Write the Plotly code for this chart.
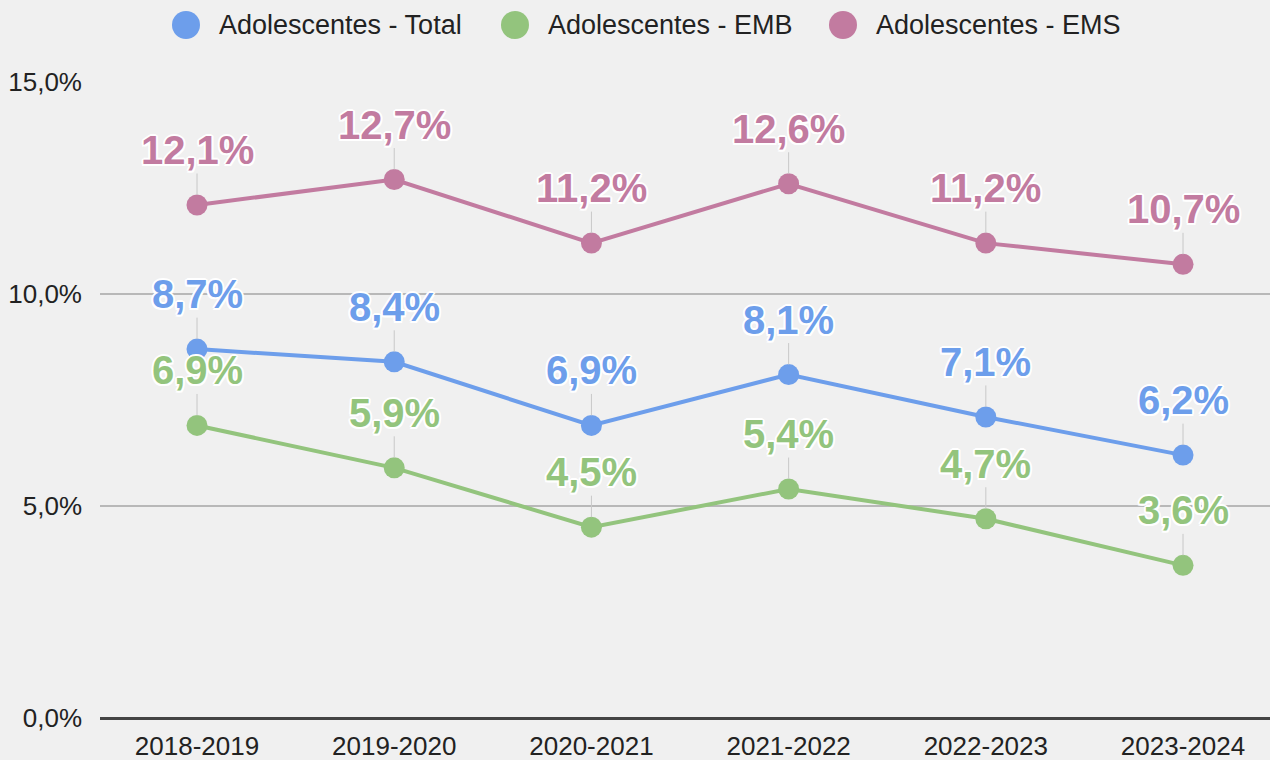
import plotly.graph_objects as go

categories = ["2018-2019", "2019-2020", "2020-2021", "2021-2022", "2022-2023", "2023-2024"]
total = [8.7, 8.4, 6.9, 8.1, 7.1, 6.2]
emb = [6.9, 5.9, 4.5, 5.4, 4.7, 3.6]
ems = [12.1, 12.7, 11.2, 12.6, 11.2, 10.7]
series_names = ["Adolescentes - Total", "Adolescentes - EMB", "Adolescentes - EMS"]
colors = ["#6d9eeb", "#93c47d", "#c27ba0"]
y_ticks = [0, 5, 10, 15]

def fmt(v):
    return f"{v:.1f}%".replace(".", ",")

W, H = 1270, 760
ML, MR, MT, MB = 100, 0, 82, 42
PW, PH = W - ML - MR, H - MT - MB

def px_x(p):
    return (p - ML) / PW

def px_y(p):
    return (H - MB - p) / PH

fig = go.Figure()
shadow = ("white 2px 0px 0px, white -2px 0px 0px, white 0px 2px 0px, white 0px -2px 0px, "
          "white 1.5px 1.5px 0px, white -1.5px -1.5px 0px, white 1.5px -1.5px 0px, white -1.5px 1.5px 0px")

annotations = []
shapes = []
for name, vals, col in zip(series_names, [total, emb, ems], colors):
    fig.add_trace(go.Scatter(
        x=categories, y=vals, name=name, mode="lines+markers",
        line=dict(color=col, width=4),
        marker=dict(color=col, size=21),
        hoverinfo="skip", showlegend=False,
    ))
    for c, v in zip(categories, vals):
        annotations.append(dict(
            x=c, y=v, xref="x", yref="y", text=fmt(v),
            showarrow=True, arrowhead=0, arrowwidth=1, arrowcolor="#c8c8c8",
            ax=0, ay=-55, standoff=10,
            font=dict(family="Liberation Sans, Arial, sans-serif", size=40, color=col,
                      weight="bold", shadow=shadow),
        ))

# Legend (circle swatch + label), laid out along the top
legend_circle_x = [186, 515, 843]
legend_y = 25
for name, col, cx in zip(series_names, colors, legend_circle_x):
    shapes.append(dict(
        type="circle", xref="paper", yref="paper",
        xsizemode="pixel", ysizemode="pixel",
        xanchor=px_x(cx), yanchor=px_y(legend_y),
        x0=-14, x1=14, y0=-14, y1=14,
        fillcolor=col, line=dict(width=0),
    ))
    annotations.append(dict(
        x=px_x(cx + 31), y=px_y(legend_y), xref="paper", yref="paper",
        xanchor="left", yanchor="middle", showarrow=False, text=name,
        font=dict(family="Liberation Sans, Arial, sans-serif", size=27, color="#222222"),
    ))

fig.update_layout(
    width=W, height=H,
    paper_bgcolor="#f0f0f0", plot_bgcolor="#f0f0f0",
    margin=dict(l=ML, r=MR, t=MT, b=MB),
    font=dict(family="Liberation Sans, Arial, sans-serif", color="#222222"),
    annotations=annotations,
    shapes=shapes,
    showlegend=False,
    xaxis=dict(type="category", range=[-0.492, 5.441], showgrid=False, zeroline=False,
               showline=False, ticks="", ticklabelstandoff=10,
               tickfont=dict(size=26, color="#222222"), fixedrange=True),
    yaxis=dict(range=[0, 15], tickvals=y_ticks, ticktext=[fmt(v) for v in y_ticks],
               showgrid=True, gridcolor="#b8b8b8", gridwidth=2,
               zeroline=True, zerolinecolor="#444444", zerolinewidth=3,
               showline=False, ticks="", ticklabelstandoff=17,
               tickfont=dict(size=26, color="#222222"), fixedrange=True),
)

fig.write_html("out.html", config={"displayModeBar": False},
               post_script="document.body.style.margin='0';document.body.style.overflow='hidden';")
